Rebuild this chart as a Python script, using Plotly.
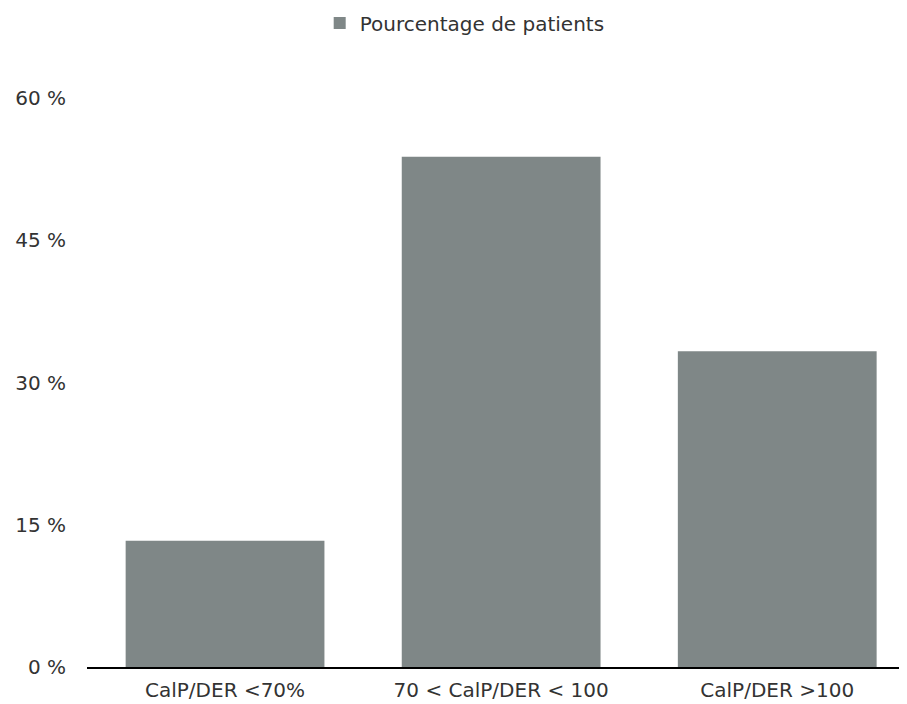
import plotly.graph_objects as go

categories = ["CalP/DER <70%", "70 < CalP/DER < 100", "CalP/DER >100"]
values = [13.3, 53.8, 33.3]
series_name = "Pourcentage de patients"
y_ticks = [0, 15, 30, 45, 60]

bar_color = "#7f8787"
text_color = "#333333"
font_family = "DejaVu Sans"

# the page body adds an 8px margin, so the figure is sized to the visible area
fig = go.Figure()
fig.add_trace(go.Bar(
    x=list(range(len(categories))),
    y=values,
    name=series_name,
    marker=dict(color=bar_color, line=dict(width=0)),
    width=0.72,
    showlegend=True,
))

fig.update_layout(
    width=899,
    height=696,
    margin=dict(l=79, r=0, t=90, b=37, autoexpand=False),
    paper_bgcolor="white",
    plot_bgcolor="white",
    font=dict(family=font_family, size=20, color=text_color),
    showlegend=True,
    legend=dict(
        orientation="h",
        xref="container", yref="paper",
        x=0.508, xanchor="center",
        y=1.166, yanchor="top",
        font=dict(size=20, color=text_color),
    ),
    xaxis=dict(
        range=[-0.5, 2.47],
        tickmode="array",
        tickvals=list(range(len(categories))),
        ticktext=categories,
        showline=True,
        linecolor="black",
        linewidth=2,
        showgrid=False,
        zeroline=False,
        ticks="",
        automargin=False,
        ticklabelstandoff=4,
        tickfont=dict(size=20, color=text_color),
    ),
    yaxis=dict(
        range=[0, 60],
        tickmode="array",
        tickvals=y_ticks,
        ticktext=[f"{v} %" for v in y_ticks],
        showline=False,
        showgrid=False,
        zeroline=False,
        ticks="",
        automargin=False,
        ticklabelstandoff=20,
        tickfont=dict(size=20, color=text_color),
    ),
)

fig.write_html("out.html")
